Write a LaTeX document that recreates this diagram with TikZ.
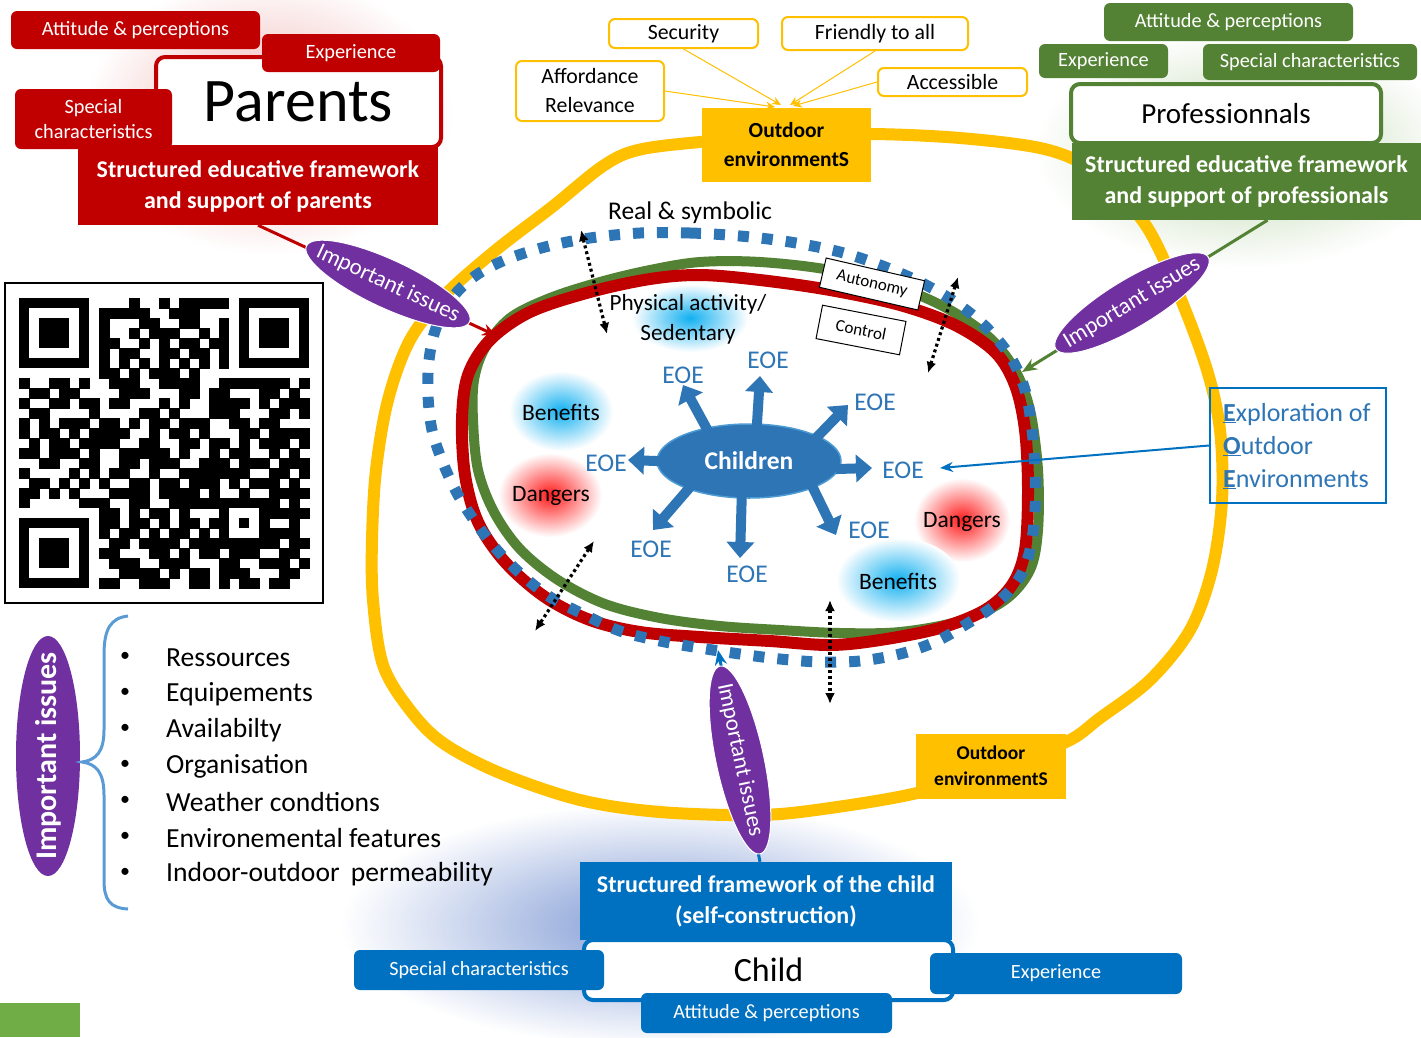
\documentclass[tikz,border=0pt]{standalone}
\usepackage{fontspec}
\setmainfont{Carlito}
\usetikzlibrary{shapes.geometric,arrows.meta,calc}
\definecolor{cred}{HTML}{C00000}
\definecolor{cgreen}{HTML}{548235}
\definecolor{cblue}{HTML}{0070C0}
\definecolor{mblue}{HTML}{2E75B6}
\definecolor{cyel}{HTML}{FFC000}
\definecolor{cpurp}{HTML}{7030A0}
\definecolor{lblue}{HTML}{5B9BD5}
\definecolor{lgreen}{HTML}{70AD47}
\definecolor{glowb}{HTML}{12B0F0}
\definecolor{glowr}{HTML}{FF1A1A}
\definecolor{blobb}{RGB}{125,152,212}
\definecolor{blobr}{RGB}{240,178,178}
\definecolor{blobg}{RGB}{188,214,172}
\newcommand\fsz[2]{\fontsize{#1}{#2}\selectfont}
\newcount\qrc
\newcount\qrr
\def\qrx{19.3}
\def\qry{298.3}
\def\qrscan#1{\ifx#1\relax\else\if#11\fill[black] ({\qrx+10*\the\qrc},{\qry+10*\the\qrr}) rectangle ++(10.4,10.4);\fi\advance\qrc by 1 \expandafter\qrscan\fi}
\newcommand\qrfinder[2]{%
  \fill[white] ({\qrx+10*(#1-1)},{\qry+10*(#2-1)}) rectangle ++(90,90);
  \fill[black] ({\qrx+10*#1},{\qry+10*#2}) rectangle ++(70,70);
  \fill[white] ({\qrx+10*(#1+1)},{\qry+10*(#2+1)}) rectangle ++(50,50);
  \fill[black] ({\qrx+10*(#1+2)},{\qry+10*(#2+2)}) rectangle ++(30,30);}
\begin{document}
\begin{tikzpicture}[x=1pt,y=-1pt,
 redtag/.style={fill=cred, rounded corners=6pt, inner sep=0pt, text=white, align=center, font=\fsz{20.3}{25}},
 greentag/.style={fill=cgreen, rounded corners=6pt, inner sep=0pt, text=white, align=center, font=\fsz{20.3}{25}},
 bluetag/.style={fill=cblue, rounded corners=6pt, inner sep=0pt, text=white, align=center, font=\fsz{20.2}{24}},
 framebox/.style={fill=white, rounded corners=9pt, line width=4pt, inner sep=0pt},
 structbox/.style={inner sep=0pt, text=white, align=center, font=\bfseries\fsz{24}{31}},
 yelbox/.style={draw=cyel, fill=white, line width=2pt, rounded corners=6pt, inner sep=0pt, align=center, font=\fsz{21.8}{29}},
 outbox/.style={fill=cyel, inner sep=0pt, align=center},
 issue/.style={ellipse, fill=cpurp, draw=white, line width=1pt, inner sep=0pt},
 issuetext/.style={text=white, font=\fsz{23}{26}, inner sep=0pt},
 eoe/.style={text=mblue, font=\fsz{25.5}{30}, inner sep=0pt},
 blob/.style={font=\fsz{23.5}{26}, inner sep=0pt},
 kidarrow/.style={mblue, line width=10pt, -{Triangle[length=16pt,width=27pt]}},
 dblarrow/.style={black, line width=3.2pt, dash pattern=on 3pt off 3pt, {Latex[length=11pt,width=10pt]}-{Latex[length=11pt,width=10pt]}},
 yline/.style={cyel, line width=1pt, -{Stealth[length=9pt,width=8pt]}},
 ctrlbox/.style={draw=black, fill=white, line width=1pt, inner sep=0pt, font=\fsz{17}{18}},
 item/.style={anchor=west, inner sep=0pt, font=\fsz{27.6}{30}}
]
\useasboundingbox (0,0) rectangle (1421,1037);
\fill[white] (0,0) rectangle (1421,1037);

% soft background blobs
\shade[inner color=blobr, outer color=white] (268,115) ellipse [x radius=185pt, y radius=140pt];
\shade[inner color=blobg, outer color=white] (1245,150) ellipse [x radius=210pt, y radius=118pt];
\shade[inner color=blobb, outer color=white] (660,925) ellipse [x radius=320pt, y radius=122pt];

% glows
\shade[inner color=glowb, outer color=white] (561,411) ellipse [x radius=52pt, y radius=40pt];
\shade[inner color=glowr, outer color=white] (550,495) ellipse [x radius=52pt, y radius=42pt];
\shade[inner color=glowr, outer color=white] (962,520) ellipse [x radius=48pt, y radius=42pt];
\shade[inner color=glowb, outer color=white] (898,580) ellipse [x radius=62pt, y radius=42pt];
\shade[inner color=glowb, outer color=white] (690,318) ellipse [x radius=58pt, y radius=34pt];

% loops
\draw[cyel, line width=12pt] plot[smooth cycle, tension=0.55] coordinates {(552,207) (496,250) (445,295) (410,340) (388,400) (376,470) (372,540) (373,600) (383,665) (410,710) (443,743) (500,773) (580,800) (660,812) (760,815) (830,808) (917,793) (990,770) (1066,742) (1100,718) (1150,680) (1190,630) (1212,570) (1222,500) (1220,430) (1207,370) (1180,297) (1150,232) (1120,195) (1085,165) (1040,148) (960,138) (872,134) (786,136) (700,142) (638,150) (603,166)};
\draw[cgreen, line width=10pt] plot[smooth cycle, tension=0.55] coordinates {(700,262) (760,262) (830,270) (900,288) (950,310) (990,338) (1015,370) (1030,410) (1038,470) (1038,530) (1030,570) (1005,600) (960,621) (900,632) (840,633) (780,630) (720,626) (660,618) (605,604) (558,580) (520,549) (494,512) (478,470) (473,420) (474,380) (485,348) (510,318) (550,298) (600,282) (650,270)};
\draw[cred, line width=12pt] plot[smooth cycle, tension=0.55] coordinates {(700,275) (760,280) (830,290) (900,305) (955,325) (995,352) (1015,385) (1025,430) (1028,490) (1025,550) (1012,585) (985,610) (940,628) (880,640) (830,645) (770,641) (700,637) (640,632) (590,620) (545,597) (505,562) (478,522) (465,475) (462,420) (468,375) (490,340) (530,312) (590,292) (650,279)};
\draw[mblue, line width=11pt, dash pattern=on 11pt off 13pt] plot[smooth cycle, tension=0.55] coordinates {(640,233) (690,233) (740,236) (790,242) (840,252) (880,265) (920,282) (955,302) (985,326) (1010,356) (1025,390) (1032,430) (1035,470) (1035,510) (1030,550) (1018,580) (995,605) (965,625) (935,642) (900,654) (860,661) (820,662) (780,659) (740,654) (700,648) (660,641) (620,631) (585,615) (550,597) (522,575) (497,550) (476,523) (458,495) (443,463) (432,430) (428,395) (429,360) (436,328) (452,298) (475,276) (505,260) (545,247) (590,238)};

% texts inside
\node[font=\fsz{25.5}{28}, inner sep=0pt] (rs) at (690,213) {Real \& symbolic};
\node[blob, align=center, font=\fsz{23.2}{30}] (pa) at (688,319) {Physical activity/\\Sedentary};
\node[blob] (ben1) at (561,412) {Benefits};
\node[blob] (dan1) at (551,496) {Dangers};
\node[blob] (dan2) at (962,522) {Dangers};
\node[blob] (ben2) at (898,581) {Benefits};

% double dotted arrows
\coordinate (d1a) at (581,230); \coordinate (d1b) at (607,334);
\coordinate (d2a) at (958,277); \coordinate (d2b) at (928,373);
\coordinate (d3a) at (594,541); \coordinate (d3b) at (535,631);
\coordinate (d4a) at (830,600); \coordinate (d4b) at (830,704);
\draw[dblarrow] (d1a) -- (d1b);
\draw[dblarrow] (d2a) -- (d2b);
\draw[dblarrow] (d3a) -- (d3b);
\draw[dblarrow] (d4a) -- (d4b);

% autonomy / control
\node[ctrlbox, rotate=-13, minimum width=101pt, minimum height=30pt] (auto) at (872,284) {Autonomy};
\node[ctrlbox, rotate=-11, minimum width=85pt, minimum height=34pt] (ctrl) at (861,330) {Control};

% children
\node[ellipse, fill=mblue, draw=cblue!70!white, line width=1.5pt, minimum width=184pt, minimum height=74pt, inner sep=0pt, text=white, font=\bfseries\fsz{25.5}{28}] (ch) at (749,461) {Children};
\coordinate (t1) at (683,385);
\coordinate (t2) at (760,376);
\coordinate (t3) at (848,405);
\coordinate (t4) at (872,468);
\coordinate (t5) at (836,535);
\coordinate (t6) at (740,558);
\coordinate (t7) at (653,530);
\coordinate (t8) at (628,460);
\draw[kidarrow] ($(ch.142)!-4pt!(t1)$) -- (t1);
\draw[kidarrow] ($(ch.78)!-4pt!(t2)$) -- (t2);
\draw[kidarrow] ($(ch.20)!-4pt!(t3)$) -- (t3);
\draw[kidarrow] ($(ch.-5)!-4pt!(t4)$) -- (t4);
\draw[kidarrow] ($(ch.-23)!-4pt!(t5)$) -- (t5);
\draw[kidarrow] ($(ch.-101)!-4pt!(t6)$) -- (t6);
\draw[kidarrow] ($(ch.205)!-4pt!(t7)$) -- (t7);
\draw[kidarrow] ($(ch.180)!-4pt!(t8)$) -- (t8);
\node[eoe] (e1) at (683,375) {EOE};
\node[eoe] (e2) at (768,360) {EOE};
\node[eoe] (e3) at (875,402) {EOE};
\node[eoe] (e4) at (903,470) {EOE};
\node[eoe] (e5) at (869,530) {EOE};
\node[eoe] (e6) at (747,574) {EOE};
\node[eoe] (e7) at (651,549) {EOE};
\node[eoe] (e8) at (606,463) {EOE};

% EOE box
\node[draw=cblue, line width=2pt, minimum width=176pt, minimum height=115pt, inner sep=0pt] (eoebox) at (1298,445.5) {};
\node[anchor=west, align=left, text=mblue, font=\fsz{26}{33}, inner sep=0pt] (eoetxt) at (1223,446) {\underline{\textbf{E}}xploration of\\\underline{\textbf{O}}utdoor\\\underline{\textbf{E}}nvironments};
\coordinate (eoeend) at (940,468);
\draw[cblue, line width=2pt, -{Stealth[length=13pt,width=10pt]}] (eoebox.west) -- (eoeend);

% outdoor environments
\node[outbox, minimum width=169pt, minimum height=74pt, font=\bfseries\fsz{21.5}{29}] (otop) at (786.5,145) {Outdoor\\environmentS};
\node[outbox, minimum width=150pt, minimum height=65pt, font=\bfseries\fsz{19.5}{26}] (obot) at (991,766) {Outdoor\\environmentS};
\node[yelbox, minimum width=149pt, minimum height=29pt] (sec) at (683.5,33.5) {Security};
\node[yelbox, minimum width=186pt, minimum height=33pt] (fri) at (875,33.5) {Friendly to all};
\node[yelbox, minimum width=148pt, minimum height=60pt] (aff) at (590,91) {Affordance\\Relevance};
\node[yelbox, minimum width=149pt, minimum height=28pt] (acc) at (952.5,82) {Accessible};
\coordinate (oa1) at (781,105);
\coordinate (oa2) at (790,105);
\coordinate (oa3) at (775,107);
\coordinate (oa4) at (793,106);
\draw[yline] (sec.south) -- (oa1);
\draw[yline] (fri.south) -- (oa2);
\draw[yline] (aff.east) -- (oa3);
\draw[yline] (acc.west) -- (oa4);

% parents
\node[redtag, minimum width=249pt, minimum height=38pt] (pap) at (135.5,30) {Attitude \& perceptions};
\node[framebox, draw=cred, minimum width=285pt, minimum height=90pt, font=\fsz{62}{66}] (pbox) at (298.5,102) {Parents};
\node[redtag, minimum width=178pt, minimum height=38pt] (pexp) at (351,53) {Experience};
\node[redtag, minimum width=157pt, minimum height=60pt] (pspec) at (93.5,119) {Special\\characteristics};
\node[structbox, fill=cred, minimum width=360pt, minimum height=78pt] (pstr) at (258,186) {Structured educative framework\\and support of parents};

% professionals
\node[greentag, minimum width=249pt, minimum height=38pt] (gap) at (1228.5,22) {Attitude \& perceptions};
\node[greentag, minimum width=129pt, minimum height=34pt] (gexp) at (1103.5,61) {Experience};
\node[greentag, minimum width=214pt, minimum height=36pt] (gspec) at (1310,62) {Special characteristics};
\node[framebox, draw=cgreen, minimum width=310pt, minimum height=59pt, font=\fsz{29}{32}] (gbox) at (1226,113.5) {Professionnals};
\node[structbox, fill=cgreen, minimum width=349pt, minimum height=77pt] (gstr) at (1246.5,181.5) {Structured educative framework\\and support of professionals};

% child
\node[framebox, draw=cblue, minimum width=369pt, minimum height=60pt, font=\fsz{34}{36}] (cbox) at (768.5,970) {Child};
\node[structbox, fill=cblue, minimum width=372pt, minimum height=78pt, font=\bfseries\fsz{24}{31}] (cstr) at (766,901) {Structured framework of the child\\(self-construction)};
\node[bluetag, minimum width=250pt, minimum height=40pt] (cspec) at (479,970) {Special characteristics};
\node[bluetag, minimum width=252pt, minimum height=41pt] (cexp) at (1056,973.5) {Experience};
\node[bluetag, minimum width=251pt, minimum height=40pt] (cap) at (766.5,1013) {Attitude \& perceptions};

% important issues connectors
\coordinate (iiend1) at (497,336);
\coordinate (iiend2) at (1022,372);
\coordinate (iiend3) at (718,650);
\draw[cred, line width=3pt, -{Stealth[length=15pt,width=12pt]}] (pstr.south) -- (iiend1);
\draw[cgreen, line width=3pt, -{Stealth[length=15pt,width=12pt]}] ($(gstr.south)+(21,0)$) -- (iiend2);
\draw[cblue, line width=3pt, -{Stealth[length=15pt,width=12pt]}] ($(cstr.north)+(-6,0)$) -- (iiend3);
\node[issue, rotate=-25, minimum width=180pt, minimum height=48pt] (ii1) at (388,284) {};
\node[issuetext, rotate=-25] (ii1t) at (ii1.center) {Important issues};
\node[issue, rotate=31, minimum width=178pt, minimum height=48pt] (ii2) at (1132,303) {};
\node[issuetext, rotate=31] (ii2t) at (ii2.center) {Important issues};
\node[issue, rotate=-78, minimum width=192pt, minimum height=48pt] (ii3) at (740,760) {};
\node[issuetext, rotate=-78] (ii3t) at (ii3.center) {Important issues};

% legend
\node[issue, draw=none, rotate=90, minimum width=240pt, minimum height=64pt] (lg) at (48,756) {};
\node[issuetext, rotate=90, font=\bfseries\fsz{30}{32}] (lgt) at (lg.center) {Important issues};
\draw[lblue, line width=3pt] (128,616) .. controls (110,618) and (104,630) .. (104,655) -- (104,730) .. controls (104,752) and (96,760) .. (82,762) .. controls (96,764) and (104,772) .. (104,795) -- (104,880) .. controls (104,900) and (110,908) .. (128,909);
\foreach \txt [count=\k from 0] in {Ressources,Equipements,Availabilty,Organisation,Weather condtions,Environemental features,Indoor-outdoor\hspace{5pt} permeability}{
  \node[item] (li\k) at (166,{658+36*\k}) {\txt};
  \node[font=\fsz{20}{22}, inner sep=0pt] (bu\k) at (125,{657+36*\k}) {\textbullet};
}

% QR code
\draw[black, line width=2pt] (5,283) rectangle (323,603);
\foreach \bits [count=\qi from 0] in {
1111111 0 0001001011111 0 1111111,
1000001 0 1111100111000 0 1000001,
1011101 0 1000110011001 0 1011101,
1011101 0 1001011100101 0 1011101,
1011101 0 1100101011011 0 1011101,
1000001 0 1011001101101 0 1000001,
1111111 0 1010101010101 0 1111111,
0000000 0 1101011101000 0 0000000,
1001101 0011100 1111001 1111110 1,
0110110 0001110 0011011 0001101 0,
1001101 1011000 1010011 1101011 1,
0110000 1000011 0100011 1000110 1,
1010111 0110101 1011100 1101100 0,
1011010 1111001 0110100 0110111 1,
0101101 1110011 0011011 0101110 1,
1101110 1001111 1010010 1100101 0,
0011001 1001101 1100111 0111011 1,
1000010 1011001 0011111 1100110 1,
0110101 0100110 1101110 1011101 0,
1101010 0011110 1111010 0100111 1,
1000001 1100110 0111111 1111101 0,
0000000 0110101 1010001 0001111 1,
1111111 0 1101101 0110101 1010010,
1000001 0 1011010 1101000 1101110,
1011101 0 0110111 1011111 0111011,
1011101 0 1100011 0101101 1100110,
1011101 0 0111001 1100011 0011101,
1000001 0 0011110 1011011 1000110,
1111111 0 1100111 0011010 1101100}{\qrc=0 \qrr=\qi\relax \expandafter\qrscan\bits\relax}
\qrfinder{0}{0}
\qrfinder{22}{0}
\qrfinder{0}{22}
\fill[black] ({\qrx+200},{\qry+200}) rectangle ++(50,50);
\fill[white] ({\qrx+210},{\qry+210}) rectangle ++(30,30);
\fill[black] ({\qrx+220},{\qry+220}) rectangle ++(10,10);

\fill[lgreen] (0,1003) rectangle (80,1037);
\end{tikzpicture}
\end{document}
